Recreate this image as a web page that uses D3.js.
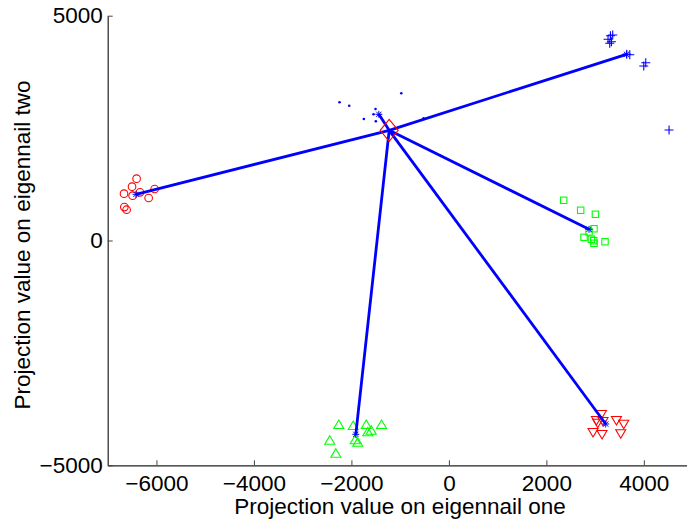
<!DOCTYPE html>
<html>
<head>
<meta charset="utf-8">
<title>Eigennail projections</title>
<script src="https://cdn.jsdelivr.net/npm/d3@7"></script>
<style>
body { margin: 0; background: #fff; }
svg { font-family: "Liberation Sans", Arial, sans-serif; }
</style>
</head>
<body>
<svg width="687" height="519"></svg>
<script>
// class samples projected on eigennails one and two
var redCircles = [[-6407,1375],[-6501,1197],[-6665,1041],[-6489,997],[-6337,1072],
                  [-6160,945],[-6037,1145],[-6659,744],[-6612,685]];
var bluePlus = [[3314,4555],[3265,4475],[3335,4422],[3361,4571],[3300,4386],
                [3650,4140],[3711,4133],[4039,3955],[3998,3881],[4517,2458]];
var blueDots = [[-2244,3074],[-2045,2998],[-1505,2925],[-1546,2807],[-1745,2702],
                [-1499,2651],[-977,3274],[-520,2718]];
var greenSquares = [[2355,894],[2704,672],[3006,583],[2977,262],[2875,189],
                    [2772,71],[2924,27],[2971,-4],[2977,-62],[3203,-27]];
var greenTriangles = [[-2259,-4104],[-1963,-4126],[-1696,-4104],[-1382,-4104],[-1593,-4230],
                      [-1663,-4266],[-2444,-4453],[-1922,-4444],[-1869,-4497],[-2320,-4742]];
var redDownTriangles = [[3129,-3859],[3027,-3993],[3053,-4053],[3162,-4015],[3437,-3993],
                        [3587,-4075],[3526,-4288],[2957,-4259],[3142,-4304]];
// class means and the overall centre
var classMeans = [[-6419,1027],[3643,4141],[-1437,2807],[2875,249],[-1910,-4311],[3218,-4081]];
var centre = [-1225,2450];

var xTicks = [-6000,-4000,-2000,0,2000,4000];
var yTicks = [-5000,0,5000];

var svg = d3.select("svg");
var x = d3.scaleLinear().domain([-7000,5000]).range([107.7,692.6]);
var y = d3.scaleLinear().domain([-5000,5000]).range([465.3,15.7]);

// axes, ticks pointing inward like matlab
svg.append("g")
    .attr("transform","translate(0," + y(-5000) + ")")
    .call(d3.axisBottom(x).tickValues(xTicks).tickSizeInner(-5).tickSizeOuter(0)
          .tickPadding(10).tickFormat(d3.format("d")));
svg.append("g")
    .attr("transform","translate(" + x(-7000) + ",0)")
    .call(d3.axisLeft(y).tickValues(yTicks).tickSizeInner(-5).tickSizeOuter(0)
          .tickPadding(5).tickFormat(d3.format("d")));
svg.selectAll(".domain").attr("stroke","#222").attr("stroke-width",1.2);
svg.selectAll(".tick line").attr("stroke","#444");
svg.selectAll(".tick text").attr("font-size",22.5).attr("fill","#000")
    .attr("font-family","Liberation Sans, Arial, sans-serif");

svg.append("text")
    .attr("x",400).attr("y",514)
    .attr("text-anchor","middle").attr("font-size",22.5)
    .text("Projection value on eigennail one");
svg.append("text")
    .attr("transform","translate(30,245) rotate(-90)")
    .attr("text-anchor","middle").attr("font-size",22.5)
    .text("Projection value on eigennail two");

var plot = svg.append("g");

plot.selectAll("circle.c").data(redCircles).enter().append("circle")
    .attr("cx",function(d){ return x(d[0]); })
    .attr("cy",function(d){ return y(d[1]); })
    .attr("r",3.8).attr("fill","none").attr("stroke","#f00").attr("stroke-width",1.1);

plot.selectAll("path.plus").data(bluePlus).enter().append("path")
    .attr("d",function(d){
        var px = x(d[0]), py = y(d[1]), s = 4.5;
        return "M" + (px - s) + "," + py + "H" + (px + s) + "M" + px + "," + (py - s) + "V" + (py + s); })
    .attr("stroke","#00f").attr("stroke-width",1.1);

plot.selectAll("circle.dot").data(blueDots).enter().append("circle")
    .attr("cx",function(d){ return x(d[0]); })
    .attr("cy",function(d){ return y(d[1]); })
    .attr("r",1.3).attr("fill","#00f");

plot.selectAll("rect.sq").data(greenSquares).enter().append("rect")
    .attr("x",function(d){ return x(d[0]) - 3.2; })
    .attr("y",function(d){ return y(d[1]) - 3.2; })
    .attr("width",6.4).attr("height",6.4)
    .attr("fill","none").attr("stroke","#0f0").attr("stroke-width",1.1);

plot.selectAll("path.tri").data(greenTriangles).enter().append("path")
    .attr("d",function(d){
        var px = x(d[0]), py = y(d[1]);
        return "M" + px + "," + (py - 5) + "L" + (px + 5) + "," + (py + 3.5) + "L" + (px - 5) + "," + (py + 3.5) + "Z"; })
    .attr("fill","none").attr("stroke","#0f0").attr("stroke-width",1.1);

plot.selectAll("path.dtri").data(redDownTriangles).enter().append("path")
    .attr("d",function(d){
        var px = x(d[0]), py = y(d[1]);
        return "M" + px + "," + (py + 5) + "L" + (px + 5) + "," + (py - 3.5) + "L" + (px - 5) + "," + (py - 3.5) + "Z"; })
    .attr("fill","none").attr("stroke","#f00").attr("stroke-width",1.1);

// lines from the centre to every class mean
plot.selectAll("line.link").data(classMeans).enter().append("line")
    .attr("x1",x(centre[0])).attr("y1",y(centre[1]))
    .attr("x2",function(d){ return x(d[0]); })
    .attr("y2",function(d){ return y(d[1]); })
    .attr("stroke","#00f").attr("stroke-width",2.8);

// asterisks on the means
plot.selectAll("path.star").data(classMeans).enter().append("path")
    .attr("d",function(d){
        var px = x(d[0]), py = y(d[1]), s = 3.5, t = 2.6;
        return "M" + (px - s) + "," + py + "H" + (px + s) +
               "M" + px + "," + (py - s) + "V" + (py + s) +
               "M" + (px - t) + "," + (py - t) + "L" + (px + t) + "," + (py + t) +
               "M" + (px - t) + "," + (py + t) + "L" + (px + t) + "," + (py - t); })
    .attr("stroke","#00f").attr("stroke-width",1);

plot.append("path")
    .attr("d",function(){
        var px = x(centre[0]), py = y(centre[1]);
        return "M" + px + "," + (py - 11) + "L" + (px + 9) + "," + py + "L" + px + "," + (py + 11) + "L" + (px - 9) + "," + py + "Z"; })
    .attr("fill","none").attr("stroke","#f00").attr("stroke-width",1.1);
</script>
</body>
</html>
